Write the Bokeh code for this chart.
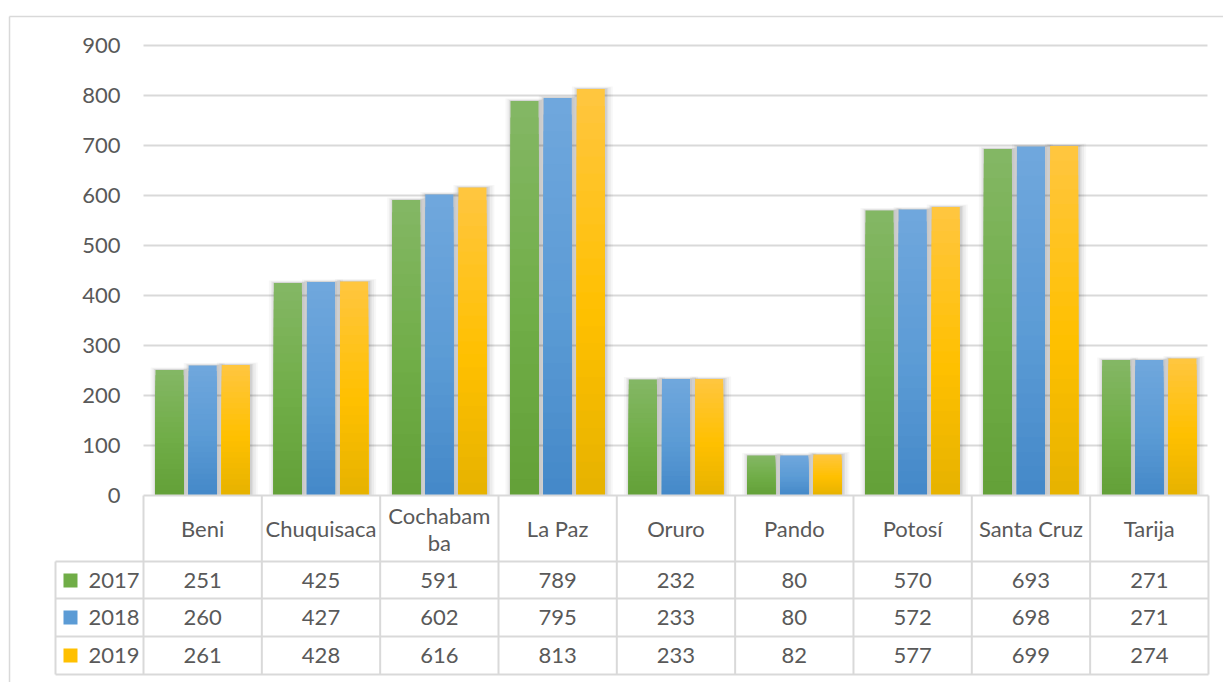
from bokeh.plotting import figure
from bokeh.models import ColumnDataSource, Range1d
from bokeh.core.properties import value
from bokeh.embed import file_html
from bokeh.resources import INLINE

# ---------------- data ----------------
categories = ["Beni", "Chuquisaca", "Cochabamba", "La Paz", "Oruro", "Pando", "Potosí", "Santa Cruz", "Tarija"]
header_labels = ["Beni", "Chuquisaca", "Cochabam\nba", "La Paz", "Oruro", "Pando", "Potosí", "Santa Cruz", "Tarija"]
years = ["2017", "2018", "2019"]
v2017 = [251, 425, 591, 789, 232, 80, 570, 693, 271]
v2018 = [260, 427, 602, 795, 233, 80, 572, 698, 271]
v2019 = [261, 428, 616, 813, 233, 82, 577, 699, 274]
y_ticks = [0, 100, 200, 300, 400, 500, 600, 700, 800, 900]

series = [v2017, v2018, v2019]

# ---------------- styles ----------------
grad = [
    ((0x84, 0xB7, 0x65), (0x70, 0xAD, 0x47), (0x63, 0xA0, 0x38)),
    ((0x70, 0xA7, 0xDD), (0x5B, 0x9B, 0xD5), (0x44, 0x88, 0xC8)),
    ((0xFF, 0xC6, 0x40), (0xFF, 0xC0, 0x00), (0xE6, 0xB2, 0x00)),
]
key_colors = ["#70AD47", "#5B9BD5", "#FFC000"]
TXT = "#595959"
GRID = "#D9D9D9"
FONT = value("Lato")
FS = "22px"

PXX = 1 / 118.33   # x units per pixel
PXY = 2.0          # y units per pixel

W, H = 1223, 682
p = figure(width=W, height=H, output_backend="svg", toolbar_location=None,
           x_range=Range1d(-1.2085, 9.1270), y_range=Range1d(-374, 990),
           min_border=0, outline_line_color=None)
p.axis.visible = False
p.grid.visible = False
p.background_fill_color = "white"
p.border_fill_color = "white"

# outer chart-area border (left and top)
bx, by = -1.1324, 958
p.segment(x0=[bx, bx], y0=[by, by], x1=[bx, 9.3], y1=[-400, by],
          line_color=GRID, line_width=1.5)

# gridlines
gx0 = [0] * (len(y_ticks) - 1)
gx1 = [9 - 1 * PXX] * (len(y_ticks) - 1)
p.segment(x0=gx0, y0=y_ticks[1:], x1=gx1, y1=y_ticks[1:], line_color=GRID, line_width=2)

# y tick labels
p.text(x=[-0.194] * len(y_ticks), y=y_ticks, text=[str(t) for t in y_ticks],
       text_font=FONT, text_font_size=FS, text_color=TXT,
       text_align="right", text_baseline="middle")

# bars
n = len(categories)
offsets = [-0.28, 0.0, 0.28]
bw = 0.237


def mix(c1, c2, t):
    return tuple(int(round(a + (b - a) * t)) for a, b in zip(c1, c2))


def grad_color(g, f):
    top, mid, bot = g
    if f > 0.45:
        c = mix(mid, top, (f - 0.45) / 0.55)
    else:
        c = mix(bot, mid, f / 0.45)
    return "#%02x%02x%02x" % c


# soft shadows
for s, vals in enumerate(series):
    xs = [i + 0.5 + offsets[s] for i in range(n)]
    for dx, extra, a in [(1.0, 2, 0.07), (1.0, 5, 0.06), (1.5, 9, 0.045), (1.5, 13, 0.03)]:
        p.vbar(x=[x + dx * PXX for x in xs], width=bw + extra * PXX,
               top=[v + (extra / 5) * PXY for v in vals], bottom=0,
               fill_color="#000000", fill_alpha=a, line_color=None)

NB = 24
for s, vals in enumerate(series):
    xs, tops, cols = [], [], []
    for k in range(NB - 1, -1, -1):
        f = (k + 0.5) / NB
        for i, v in enumerate(vals):
            xs.append(i + 0.5 + offsets[s])
            tops.append(v * (k + 1) / NB)
            cols.append(grad_color(grad[s], f))
    src = ColumnDataSource(dict(x=xs, top=tops, c=cols))
    p.vbar(x="x", width=bw, top="top", bottom=0, fill_color="c", line_color=None, source=src)

# data table
row_tops = [0, -132, -206, -282]
row_bot = -358
left_col = -0.7437
p.segment(x0=[0], y0=[0], x1=[9], y1=[0], line_color=GRID, line_width=2)
p.segment(x0=[left_col] * 4, y0=row_tops[1:] + [row_bot], x1=[9] * 4, y1=row_tops[1:] + [row_bot],
          line_color=GRID, line_width=2)
p.segment(x0=list(range(n + 1)), y0=[0] * (n + 1), x1=list(range(n + 1)), y1=[row_bot] * (n + 1),
          line_color=GRID, line_width=2)
p.segment(x0=[left_col], y0=[row_tops[1]], x1=[left_col], y1=[row_bot], line_color=GRID, line_width=2)

# header labels
p.text(x=[i + 0.5 for i in range(n)], y=[-66] * n, text=header_labels,
       text_font=FONT, text_font_size=FS, text_color=TXT,
       text_align="center", text_baseline="middle", text_line_height=1.0)

# values
row_centers = [-170, -244, -320]
for s, vals in enumerate(series):
    p.text(x=[i + 0.5 for i in range(n)], y=[row_centers[s]] * n, text=[str(v) for v in vals],
           text_font=FONT, text_font_size=FS, text_color=TXT,
           text_align="center", text_baseline="middle")

# legend keys + year labels
p.scatter(x=[-0.617] * 3, y=row_centers, marker="square", size=14,
          fill_color=key_colors, line_color=None)
p.text(x=[-0.465] * 3, y=row_centers, text=years,
       text_font=FONT, text_font_size=FS, text_color=TXT,
       text_align="left", text_baseline="middle")

open("out.html", "w").write(file_html(p, INLINE))
